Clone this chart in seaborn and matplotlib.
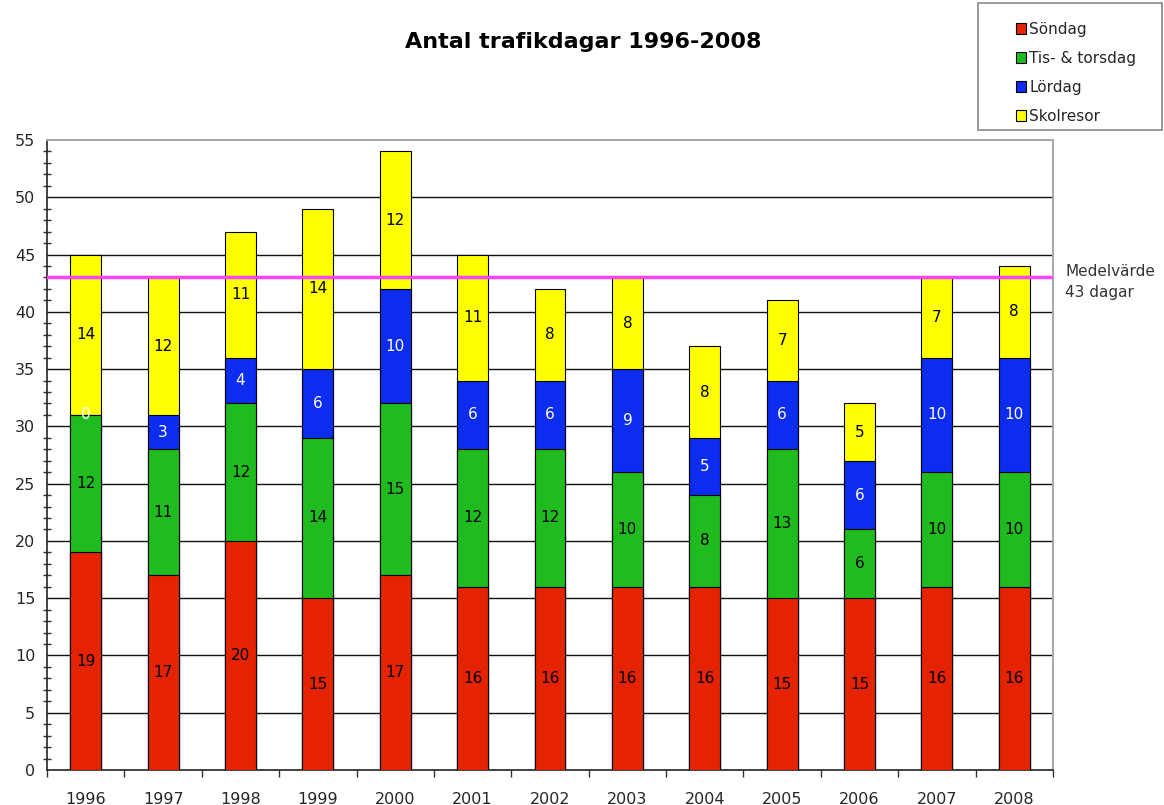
import matplotlib
matplotlib.use("Agg")
import matplotlib.pyplot as plt
import seaborn as sns
import pandas as pd
import numpy as np
from matplotlib.patches import Patch, Rectangle
from matplotlib.ticker import MultipleLocator

years = ["1996", "1997", "1998", "1999", "2000", "2001", "2002",
         "2003", "2004", "2005", "2006", "2007", "2008"]
sondag = [19, 17, 20, 15, 17, 16, 16, 16, 16, 15, 15, 16, 16]
tis_tors = [12, 11, 12, 14, 15, 12, 12, 10, 8, 13, 6, 10, 10]
lordag = [0, 3, 4, 6, 10, 6, 6, 9, 5, 6, 6, 10, 10]
skolresor = [14, 12, 11, 14, 12, 11, 8, 8, 8, 7, 5, 7, 8]
series_names = ["Söndag", "Tis- & torsdag", "Lördag", "Skolresor"]
mean_value = 43
title = "Antal trafikdagar 1996-2008"

colors = ["#e52300", "#1fbb1f", "#0c2cf0", "#ffff00"]
label_colors = ["black", "black", "white", "black"]

sns.set_style("white")
plt.rcParams['font.family'] = ['DejaVu Sans']

series = [sondag, tis_tors, lordag, skolresor]
cum = np.cumsum(np.array(series), axis=0)

fig = plt.figure(figsize=(11.64, 8.05), dpi=100)
ax = fig.add_axes([47/1164, 35/805, (1053-47)/1164, (770-140)/805])

# draw from top (largest cumulative) down so lower segments overlay
for i in range(3, -1, -1):
    df = pd.DataFrame({"year": years, "value": cum[i]})
    sns.barplot(data=df, x="year", y="value", order=years, color=colors[i],
                width=0.4, edgecolor="black", linewidth=0.8, ax=ax,
                saturation=1, zorder=3)

# segment labels
for i in range(4):
    for j in range(len(years)):
        v = series[i][j]
        ymid = cum[i][j] - v / 2
        ax.text(j, ymid, str(v), ha="center", va="center", fontsize=11,
                color=label_colors[i], zorder=5)

ax.set_xlim(-0.5, len(years) - 0.5)
ax.set_ylim(0, 55)
ax.set_xlabel("")
ax.set_ylabel("")
ax.yaxis.set_major_locator(MultipleLocator(5))
ax.yaxis.set_minor_locator(MultipleLocator(1))
ax.tick_params(axis="y", which="major", direction="inout", length=9, width=1,
               labelsize=11.5, color="#333333", pad=4)
ax.tick_params(axis="y", which="minor", direction="inout", length=6, width=1,
               color="#333333", left=True)
ax.set_xticks(np.arange(len(years)))
ax.set_xticklabels(years)
ax.set_xticks(np.arange(len(years) + 1) - 0.5, minor=True)
ax.tick_params(axis="x", which="major", length=0, labelsize=11.5, pad=16)
ax.tick_params(axis="x", which="minor", direction="out", length=5, width=1,
               color="#333333", bottom=True)

for y in range(5, 55, 5):
    ax.axhline(y, color="#111111", linewidth=1, zorder=1)

for s in ["left", "bottom"]:
    ax.spines[s].set_color("#222222")
    ax.spines[s].set_linewidth(1.2)
for s in ["top", "right"]:
    ax.spines[s].set_color("#aaaaaa")
    ax.spines[s].set_linewidth(1.5)

ax.axhline(mean_value, color="#ff44ff", linewidth=2.5, zorder=4)
ax.text(1.012, 42.6 / 55, "Medelvärde\n43 dagar",
        transform=ax.transAxes, ha="left", va="center", fontsize=11,
        color="#333333", linespacing=1.45)

fig.text(583/1164, 1 - 42/805, title, ha="center", va="center",
         fontsize=16, fontweight="bold", color="black")

# legend box
fig.patches.append(Rectangle((978/1164, 1 - 130/805), (1162-978)/1164, 127/805,
                             transform=fig.transFigure, fill=False,
                             edgecolor="#888888", linewidth=1.2))
handles = [Patch(facecolor=c, edgecolor="black", linewidth=0.8) for c in colors]
fig.legend(handles, series_names, loc="upper left",
           bbox_to_anchor=(1005/1164, 1 - 11/805), frameon=False,
           fontsize=11, handlelength=0.7, handleheight=0.7,
           handletextpad=0.2, labelspacing=0.92, borderpad=0.2)

fig.savefig("out.png", dpi=100)
